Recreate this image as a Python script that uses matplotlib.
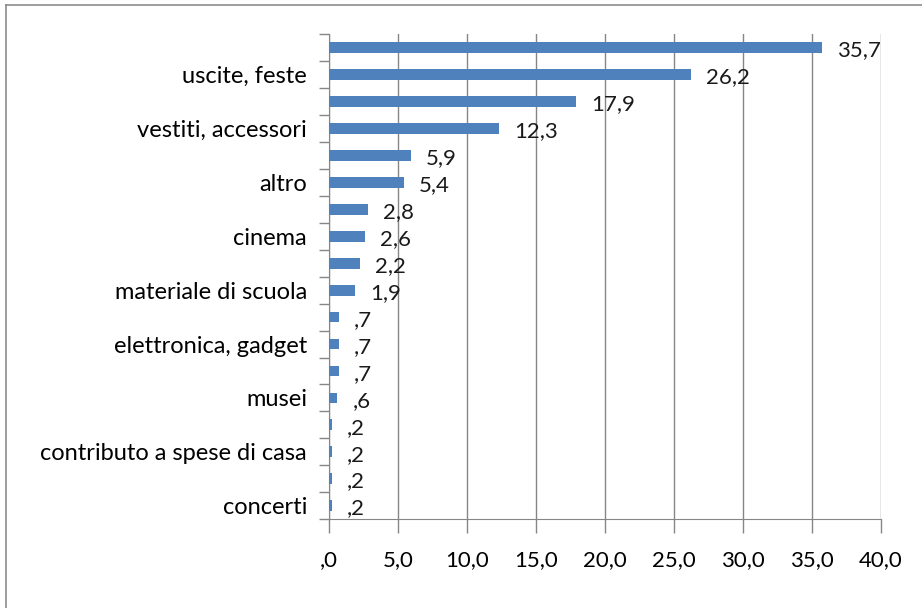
import matplotlib
matplotlib.use('Agg')
import matplotlib.pyplot as plt
from matplotlib.lines import Line2D

# categories top to bottom; the unlabelled rows have no readable name in the source
categories = ['', 'uscite, feste', '', 'vestiti, accessori', '', 'altro',
              '', 'cinema', '', 'materiale di scuola', '', 'elettronica, gadget',
              '', 'musei', '', 'contributo a spese di casa', '', 'concerti']
values = [35.7, 26.2, 17.9, 12.3, 5.9, 5.4, 2.8, 2.6, 2.2, 1.9,
          0.7, 0.7, 0.7, 0.6, 0.2, 0.2, 0.2, 0.2]
xticks = [0, 5, 10, 15, 20, 25, 30, 35, 40]


def fmt(v, nd=1):
    s = ('%.' + str(nd) + 'f') % v
    s = s.replace('.', ',')
    if s.startswith('0,'):
        s = s[1:]
    return s


plt.rcParams['font.family'] = ['Lato', 'DejaVu Sans']
fs = 16

fig = plt.figure(figsize=(9.22, 6.08), dpi=100)
ax = fig.add_axes([0.357, 0.146, 0.5985, 0.798])

n = len(values)
ypos = list(range(n))
ax.barh(ypos, values, height=0.4, color='#4F81BD', zorder=3)
ax.set_ylim(n - 0.5, -0.5)
ax.set_xlim(0, 40)

for y, v in zip(ypos, values):
    ax.annotate(fmt(v), (v, y), xytext=(11, -2), textcoords='offset points',
                ha='left', va='center', fontsize=fs, color='#1a1a1a', zorder=4)

ax.set_xticks(xticks)
ax.set_xticklabels([fmt(x) for x in xticks], fontsize=fs)
ax.set_yticks(ypos)
ax.set_yticklabels(categories, fontsize=17)
ax.set_yticks([i - 0.5 for i in range(n + 1)], minor=True)
ax.tick_params(axis='y', which='major', length=0, pad=16)
ax.tick_params(axis='y', which='minor', length=7, color='#868686', width=1)
ax.tick_params(axis='x', length=10, color='#868686', width=1, pad=12)

ax.grid(axis='x', color='#868686', linewidth=1, zorder=0)
for side in ['top', 'right']:
    ax.spines[side].set_visible(False)
ax.spines['left'].set_color('#868686')
ax.spines['bottom'].set_color('#868686')

# outer chart border (left and top edges visible)
fig.add_artist(Line2D([0.0065, 0.0065], [0.0, 0.991], transform=fig.transFigure,
                      color='#8c8c8c', linewidth=1.2))
fig.add_artist(Line2D([0.0065, 1.0], [0.991, 0.991], transform=fig.transFigure,
                      color='#8c8c8c', linewidth=1.2))

fig.savefig('out.png', dpi=100)
